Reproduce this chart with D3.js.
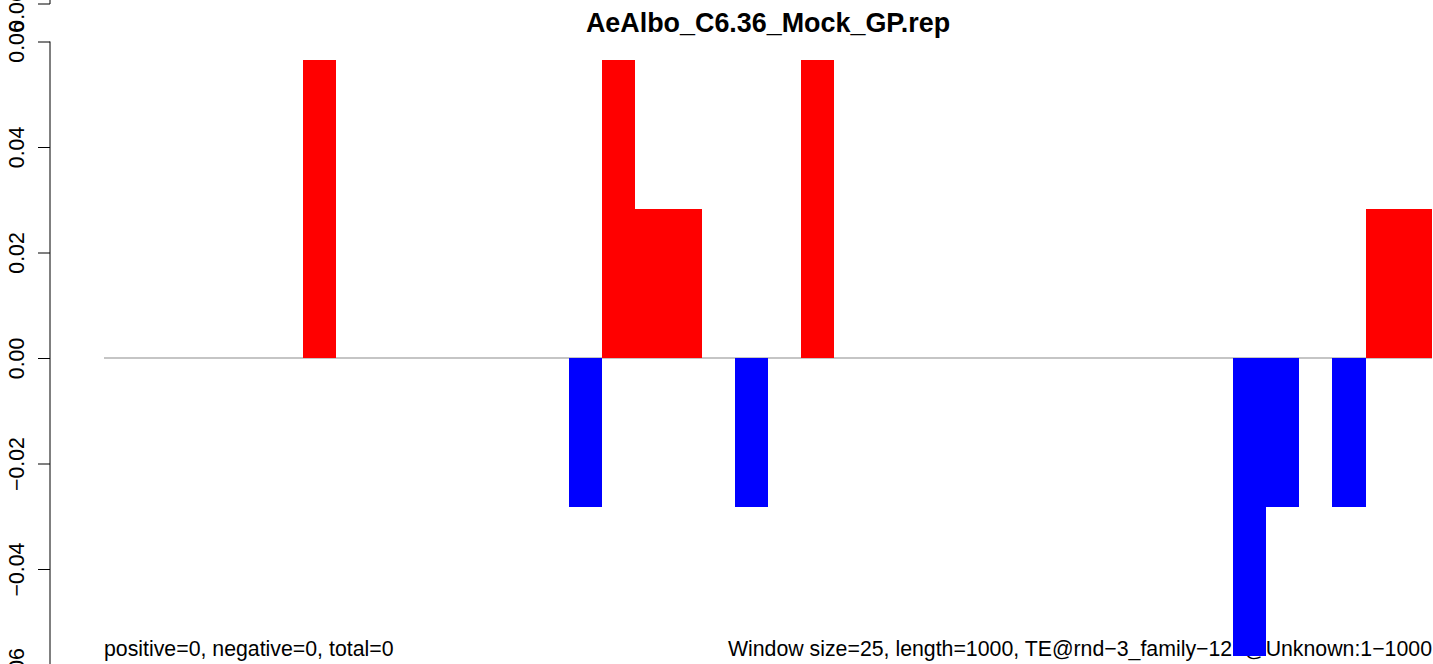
<!DOCTYPE html>
<html>
<head>
<meta charset="utf-8">
<script src="https://cdn.jsdelivr.net/npm/d3@7"></script>
<style>
  html, body { margin: 0; padding: 0; background: #fff; }
  svg { display: block; font-family: "Liberation Sans", Arial, Helvetica, sans-serif; }
</style>
</head>
<body>
<svg id="chart" width="1433" height="664"></svg>
<script>
// ---- data ----
const title = "AeAlbo_C6.36_Mock_GP.rep";
const windowSize = 25;
const seqLength = 1000;
// one value per 25-bp window (40 windows)
const windowValues = [
  0, 0, 0, 0, 0, 0, 0.0565, 0, 0, 0,
  0, 0, 0, 0, -0.0283, 0.0565, 0.0283, 0.0283, 0, -0.0283,
  0, 0.0565, 0, 0, 0, 0, 0, 0, 0, 0,
  0, 0, 0, 0, -0.0565, -0.0283, 0, -0.0283, 0.0283, 0.0283
];
const yTicks = [-0.06, -0.04, -0.02, 0.00, 0.02, 0.04, 0.06];
const yTickLabels = ["\u22120.06", "\u22120.04", "\u22120.02", "0.00", "0.02", "0.04", "0.06"];
const leftNote = "positive=0, negative=0, total=0";
const rightNote = "Window size=25, length=1000, TE@rnd\u22123_family\u2212127@Unknown:1\u22121000";
const upperPanelTickLabel = "0.06";

// ---- scales ----
const svg = d3.select("#chart");
const x = d3.scaleLinear().domain([0, seqLength]).range([104, 1432]);
const y = d3.scaleLinear().domain([-0.06, 0.06]).range([674.5, 41.5]);
const fs = 21.3;

// ---- title ----
svg.append("text")
  .attr("x", (x(0) + x(seqLength)) / 2)
  .attr("y", 32)
  .attr("text-anchor", "middle")
  .attr("font-weight", "bold")
  .attr("font-size", 26.9)
  .attr("fill", "#000")
  .text(title);

// ---- bottom notes (drawn before bars so bars cover them) ----
svg.append("text")
  .attr("x", x(0)).attr("y", 656)
  .attr("font-size", fs).attr("fill", "#000")
  .text(leftNote);
svg.append("text")
  .attr("x", x(seqLength)).attr("y", 656)
  .attr("text-anchor", "end")
  .attr("font-size", fs).attr("fill", "#000")
  .text(rightNote);

// ---- zero line ----
svg.append("line")
  .attr("x1", x(0)).attr("x2", x(seqLength))
  .attr("y1", y(0)).attr("y2", y(0))
  .attr("stroke", "#8c8c8c").attr("stroke-width", 1.2);

// ---- bars ----
const bars = windowValues.map((v, i) => ({ start: i * windowSize, end: (i + 1) * windowSize, v }))
  .filter(d => d.v !== 0);
svg.append("g").selectAll("rect").data(bars).join("rect")
  .attr("x", d => x(d.start))
  .attr("width", d => x(d.end) - x(d.start))
  .attr("y", d => y(Math.max(0, d.v)))
  .attr("height", d => Math.abs(y(d.v) - y(0)))
  .attr("fill", d => d.v > 0 ? "#FF0000" : "#0000FF")
  .attr("shape-rendering", "crispEdges");

// ---- y axis ----
const axisX = 50;
const yAxis = d3.axisLeft(y)
  .tickValues(yTicks)
  .tickSize(12)
  .tickFormat((d, i) => yTickLabels[i]);
const gAxis = svg.append("g")
  .attr("transform", `translate(${axisX},0)`)
  .call(yAxis);
gAxis.select(".domain").remove();
gAxis.selectAll(".tick line").attr("stroke", "#000");
gAxis.selectAll(".tick text")
  .attr("font-size", fs)
  .attr("font-family", "Liberation Sans, Arial, sans-serif")
  .attr("fill", "#000")
  .attr("text-anchor", "middle")
  .attr("x", null).attr("dy", null)
  .attr("transform", "translate(-26,0) rotate(-90)")
  .attr("y", 0);
gAxis.append("line")
  .attr("x1", 0).attr("x2", 0)
  .attr("y1", y(0.06)).attr("y2", y(-0.06))
  .attr("stroke", "#000");

// ---- stub of the axis of the panel above (cut off at the top) ----
const stub = svg.append("g").attr("transform", `translate(${axisX},0)`);
stub.append("line").attr("x1", 0).attr("x2", 0).attr("y1", -10).attr("y2", 4).attr("stroke", "#000");
stub.append("line").attr("x1", -12).attr("x2", 0).attr("y1", 4).attr("y2", 4).attr("stroke", "#000");
stub.append("text")
  .attr("font-size", fs).attr("fill", "#000")
  .attr("text-anchor", "middle")
  .attr("transform", "translate(-26,11) rotate(-90)")
  .text(upperPanelTickLabel);
</script>
</body>
</html>
